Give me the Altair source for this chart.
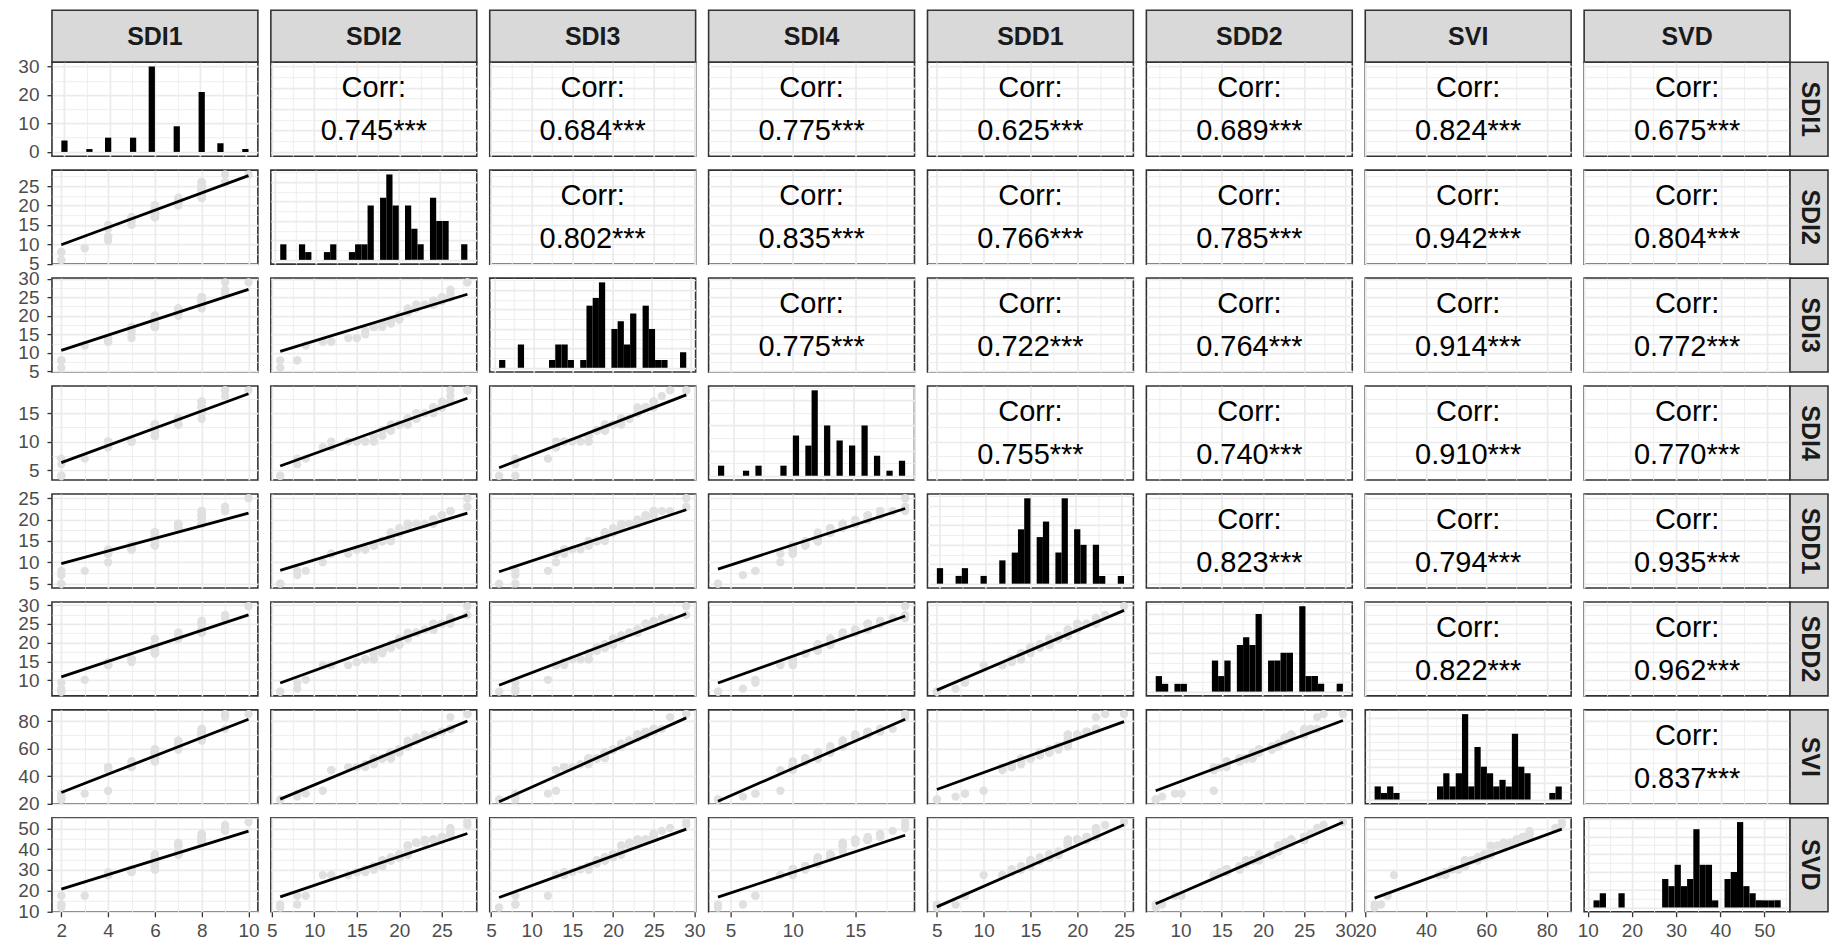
import math
import json
import altair as alt
import pandas as pd

# ---------------- data ----------------
VARS = ["SDI1", "SDI2", "SDI3", "SDI4", "SDD1", "SDD2", "SVI", "SVD"]
DATA_MIN = [2, 6, 6, 4, 5, 7, 23, 12]
DATA_MAX = [10, 28, 29, 19, 25, 29.7, 85, 53]
TICK_STEP = [2, 5, 5, 5, 5, 5, 20, 10]          # axis label step per variable
COUNT_STEP = [10, 2.5, 2.5, 5, 2.5, 2.5, 2.5, 2.5]  # grid step of histogram counts
INTEGER_VALUED = [True, True, True, True, True, False, False, False]

# histogram counts: 30 equal bins, bin centres running from min to max
HIST_SDI1 = [4, 0, 0, 0, 1, 0, 0, 5, 0, 0, 0, 5, 0, 0, 30, 0, 0, 0, 9, 0, 0, 0, 21, 0, 0, 3, 0, 0, 0, 1]
HIST_SDI2 = [2, 0, 0, 2, 1, 0, 0, 1, 2, 0, 0, 1, 2, 2, 7, 0, 8, 11, 7, 0, 7, 4, 2, 0, 8, 5, 5, 0, 0, 2]
HIST_SDI3 = [1, 0, 0, 3, 0, 0, 0, 0, 1, 3, 3, 1, 0, 1, 8, 9, 11, 0, 5, 6, 3, 7, 0, 8, 5, 1, 1, 0, 0, 2]
HIST_SDI4 = [2, 0, 0, 0, 1, 0, 2, 0, 0, 0, 2, 0, 8, 0, 6, 17, 0, 10, 0, 7, 0, 6, 0, 10, 0, 4, 0, 1, 0, 3]
HIST_SDD1 = [2, 0, 0, 1, 2, 0, 0, 1, 0, 0, 3, 0, 4, 7, 11, 0, 6, 8, 0, 4, 11, 0, 7, 5, 0, 5, 1, 0, 0, 1]
HIST_SDD2 = [2, 1, 0, 1, 1, 0, 0, 0, 0, 4, 2, 4, 0, 6, 7, 6, 10, 0, 4, 4, 5, 5, 0, 11, 2, 2, 1, 0, 0, 1]
HIST_SVI = [2, 1, 2, 1, 0, 0, 0, 0, 0, 0, 2, 4, 2, 4, 13, 2, 8, 5, 4, 2, 3, 2, 10, 5, 4, 0, 0, 0, 1, 2]
HIST_SVD = [1, 2, 0, 0, 2, 0, 0, 0, 0, 0, 0, 4, 3, 6, 3, 4, 11, 6, 6, 1, 0, 4, 5, 12, 3, 2, 1, 1, 1, 1]
HIST = [HIST_SDI1, HIST_SDI2, HIST_SDI3, HIST_SDI4, HIST_SDD1, HIST_SDD2, HIST_SVI, HIST_SVD]

# correlations (upper triangle), row variable vs the variables to its right
CORR_SDI1 = ["0.745", "0.684", "0.775", "0.625", "0.689", "0.824", "0.675"]
CORR_SDI2 = ["0.802", "0.835", "0.766", "0.785", "0.942", "0.804"]
CORR_SDI3 = ["0.775", "0.722", "0.764", "0.914", "0.772"]
CORR_SDI4 = ["0.755", "0.740", "0.910", "0.770"]
CORR_SDD1 = ["0.823", "0.794", "0.935"]
CORR_SDD2 = ["0.822", "0.962"]
CORR_SVI = ["0.837"]
CORR = [CORR_SDI1, CORR_SDI2, CORR_SDI3, CORR_SDI4, CORR_SDD1, CORR_SDD2, CORR_SVI, []]
CORR_TITLE = "Corr:"
SIGNIF = "***"

# fitted lines (lower triangle): (y at min of x variable, y at max of x variable)
FIT_SDI2 = [(9.9, 27.7)]
FIT_SDI3 = [(10.7, 27.1), (10.4, 25.8)]
FIT_SDI4 = [(6.3, 18.4), (5.7, 17.6), (5.4, 18.2)]
FIT_SDD1 = [(9.7, 21.5), (8.1, 21.5), (7.8, 22.3), (8.4, 22.6)]
FIT_SDD2 = [(10.9, 27.4), (9.3, 27.4), (8.7, 27.7), (9.3, 27.1), (7.4, 28.6)]
FIT_SVI = [(28.1, 81.3), (23.3, 80.0), (21.4, 82.3), (21.8, 81.3), (30.3, 79.6), (29.4, 80.4)]
FIT_SVD = [(20.8, 48.7), (17.1, 47.5), (16.8, 49.6), (17.0, 46.7), (12.3, 51.7), (13.8, 52.9), (16.5, 49.6)]
FIT = [[], FIT_SDI2, FIT_SDI3, FIT_SDI4, FIT_SDD1, FIT_SDD2, FIT_SVI, FIT_SVD]

# ---------------- layout / style ----------------
FONT = "Liberation Sans, Arial, Helvetica, sans-serif"
PW, PH = 206, 94
STRIP_H = 52
GAP_R, GAP_C = 14, 13
RS_W = 25
NB = 30
GRID_COLOR = "#ebebeb"
BORDER = "#333333"
STRIP_FILL = "#d9d9d9"


def bin_width(i):
    return (DATA_MAX[i] - DATA_MIN[i]) / (NB - 1)


def sdom(i):
    r = DATA_MAX[i] - DATA_MIN[i]
    return [DATA_MIN[i] - 0.05 * r, DATA_MAX[i] + 0.05 * r]


def hdom(i):
    w = bin_width(i)
    a, b = DATA_MIN[i] - w / 2, DATA_MAX[i] + w / 2
    r = b - a
    return [a - 0.05 * r, b + 0.05 * r]


def breaks(dom, step):
    k0 = math.ceil(dom[0] / step - 1e-9)
    k1 = math.floor(dom[1] / step + 1e-9)
    major = [round(k * step, 6) for k in range(k0, k1 + 1)]
    minor = [round((k + 0.5) * step, 6) for k in range(k0 - 1, k1 + 1)]
    minor = [m for m in minor if dom[0] <= m <= dom[1]]
    return major, minor


def make_axis(dom, step, show):
    major, minor = breaks(dom, step)
    test = "indexof(%s, datum.value) >= 0" % json.dumps(major)
    kw = dict(values=sorted(major + minor), title=None, grid=True, domain=False,
              gridColor=GRID_COLOR,
              gridWidth={"condition": {"test": test, "value": 1.7}, "value": 0.85},
              labelOverlap=False, labelFlush=False, format="d")
    if show:
        kw.update(labels=True, ticks=True,
                  labelExpr=test + " ? datum.label : ''",
                  tickOpacity={"condition": {"test": test, "value": 1}, "value": 0})
    else:
        kw.update(labels=False, ticks=False)
    return alt.Axis(**kw)


def values_of(i):
    w = bin_width(i)
    vals = []
    for k, c in enumerate(HIST[i]):
        v = DATA_MIN[i] + k * w
        if INTEGER_VALUED[i]:
            v = round(v)
        vals += [v] * c
    return vals


def panel(i, j):
    show_x = i == 7
    show_y = j == 0
    if i == j:
        xd = hdom(i)
        m = max(HIST[i])
        yd = [-0.05 * m, 1.05 * m]
        xs, ys = TICK_STEP[i], COUNT_STEP[i]
    else:
        xd, yd = sdom(j), sdom(i)
        xs, ys = TICK_STEP[j], TICK_STEP[i]
    xax = make_axis(xd, xs, show_x)
    yax = make_axis(yd, ys, show_y)
    xsc = alt.Scale(domain=xd, nice=False, zero=False)
    ysc = alt.Scale(domain=yd, nice=False, zero=False)
    X = alt.X("x:Q", scale=xsc, axis=xax)
    Y = alt.Y("y:Q", scale=ysc, axis=yax)

    if i == j:
        w = bin_width(i)
        rows = []
        for k, c in enumerate(HIST[i]):
            if c > 0:
                cx = DATA_MIN[i] + k * w
                rows.append({"x": cx - w / 2, "x2": cx + w / 2, "y": c, "y0": 0})
        ch = alt.Chart(pd.DataFrame(rows)).mark_rect(color="black").encode(
            x=X, x2="x2:Q", y=Y, y2="y0:Q")
    elif i < j:
        df = pd.DataFrame({"x": [(xd[0] + xd[1]) / 2], "y": [(yd[0] + yd[1]) / 2],
                           "head": [CORR_TITLE],
                           "value": [CORR[i][j - i - 1] + SIGNIF]})
        base = alt.Chart(df)
        t1 = base.mark_text(font=FONT, fontSize=29, color="black", align="center",
                            baseline="middle", dy=-21).encode(x=X, y=Y, text="head:N")
        t2 = base.mark_text(font=FONT, fontSize=29, color="black", align="center",
                            baseline="middle", dy=22).encode(x=X, y=Y, text="value:N")
        ch = alt.layer(t1, t2)
    else:
        xv = values_of(j)
        yv = values_of(i)
        n = min(len(xv), len(yv))
        pts = pd.DataFrame({"x": xv[:n], "y": yv[:n]})
        y0, y1 = FIT[i][j]
        line = pd.DataFrame({"x": [DATA_MIN[j], DATA_MAX[j]], "y": [y0, y1]})
        p = alt.Chart(pts).mark_circle(size=70, color="#e0e0e0", opacity=1).encode(x=X, y=Y)
        l = alt.Chart(line).mark_line(color="black", strokeWidth=2.8).encode(x=X, y=Y)
        ch = alt.layer(p, l)
    return ch.properties(width=PW, height=PH)


def top_strip(j):
    base = alt.Chart(pd.DataFrame({"label": [VARS[j]]}))
    rect = base.mark_rect(fill=STRIP_FILL, stroke=BORDER, strokeWidth=1.6).encode(
        x=alt.value(0), x2=alt.value(PW), y=alt.value(0), y2=alt.value(STRIP_H))
    txt = base.mark_text(font=FONT, fontSize=25, fontWeight="bold", color="#1a1a1a",
                         align="center", baseline="middle").encode(
        x=alt.value(PW / 2), y=alt.value(STRIP_H / 2 + 1), text="label:N")
    return alt.layer(rect, txt).properties(
        width=PW, height=STRIP_H - GAP_R, view=alt.ViewBackground(stroke="transparent"))


def right_strip(i):
    base = alt.Chart(pd.DataFrame({"label": [VARS[i]]}))
    rect = base.mark_rect(fill=STRIP_FILL, stroke=BORDER, strokeWidth=1.6).encode(
        x=alt.value(-GAP_C), x2=alt.value(RS_W), y=alt.value(0), y2=alt.value(PH))
    txt = base.mark_text(font=FONT, fontSize=25, fontWeight="bold", color="#1a1a1a",
                         align="center", baseline="middle", angle=90).encode(
        x=alt.value((RS_W - GAP_C) / 2 + 1), y=alt.value(PH / 2), text="label:N")
    return alt.layer(rect, txt).properties(
        width=RS_W, height=PH, view=alt.ViewBackground(stroke="transparent"))


def blank():
    return alt.Chart(pd.DataFrame({"label": [""]})).mark_text().encode(
        text="label:N").properties(width=RS_W, height=STRIP_H - GAP_R,
                                   view=alt.ViewBackground(stroke="transparent"))


cells = [top_strip(j) for j in range(8)] + [blank()]
for i in range(8):
    cells += [panel(i, j) for j in range(8)]
    cells.append(right_strip(i))

chart = alt.concat(
    *cells, columns=9, spacing={"row": GAP_R, "column": GAP_C},
    bounds="flush", align="each"
).properties(
    padding={"left": 9, "top": 0, "right": 0, "bottom": 0}
).configure_view(
    stroke=BORDER, strokeWidth=1.6
).configure_axis(
    labelFont=FONT, labelFontSize=19, labelColor="#4d4d4d",
    tickColor=BORDER, tickSize=5, tickWidth=1.3, labelPadding=8
).configure_axisBottom(
    labelPadding=5
)

chart.save("out.html", embed_options={"renderer": "svg", "actions": False})
